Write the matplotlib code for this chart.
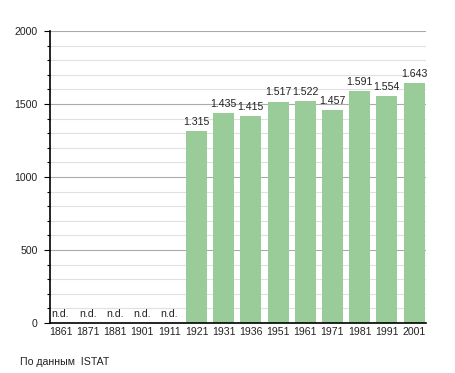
import matplotlib
matplotlib.use("Agg")
import matplotlib.pyplot as plt
from matplotlib.ticker import MultipleLocator

years = ["1861", "1871", "1881", "1901", "1911", "1921", "1931", "1936",
         "1951", "1961", "1971", "1981", "1991", "2001"]
population = [None, None, None, None, None, 1315, 1435, 1415,
              1517, 1522, 1457, 1591, 1554, 1643]
missing_label = "n.d."
source_text = "По данным  ISTAT"

plt.rcParams['font.family'] = ['Liberation Sans', 'DejaVu Sans']
FS = 7.6
bar_color = "#99cc99"
txt_color = "#222222"

fig = plt.figure(figsize=(4.55, 3.73), dpi=100)
ax = fig.add_axes([50/455, 1-323/373, 376/455, 292/373])

xs = list(range(len(years)))
for x, v in zip(xs, population):
    if v is None:
        ax.text(x, 25, missing_label, ha='center', va='bottom', fontsize=FS, color=txt_color)
    else:
        ax.bar(x, v, width=0.77, color=bar_color, zorder=3)
        lab = f"{v:,}".replace(",", ".")
        ax.annotate(lab, (x, v), xytext=(0, 3), textcoords='offset points',
                    ha='center', va='bottom', fontsize=FS, zorder=4, color=txt_color)

ax.set_xlim(-0.386, 13.44)
ax.set_ylim(0, 2000)
ax.set_xticks(xs)
ax.set_xticklabels(years, fontsize=FS, color=txt_color)
ax.tick_params(axis='x', length=0, pad=3)
ax.yaxis.set_major_locator(MultipleLocator(500))
ax.yaxis.set_minor_locator(MultipleLocator(100))
ax.tick_params(axis='y', which='major', length=4, width=0.8, labelsize=FS, pad=5, labelcolor=txt_color)
ax.tick_params(axis='y', which='minor', length=2, width=0.8)
ax.grid(axis='y', which='minor', color='#e0e0e0', linewidth=0.8, zorder=0)
ax.grid(axis='y', which='major', color='#aaaaaa', linewidth=0.8, zorder=1)
for s in ['top', 'right']:
    ax.spines[s].set_visible(False)
ax.spines['left'].set_linewidth(1.2)
ax.spines['bottom'].set_linewidth(1.2)
ax.spines['left'].set_zorder(5)
ax.spines['bottom'].set_zorder(5)

fig.text(20/455, 1-362/373, source_text, fontsize=FS, ha='left', va='center', color=txt_color)

fig.savefig("out.png", dpi=100)
